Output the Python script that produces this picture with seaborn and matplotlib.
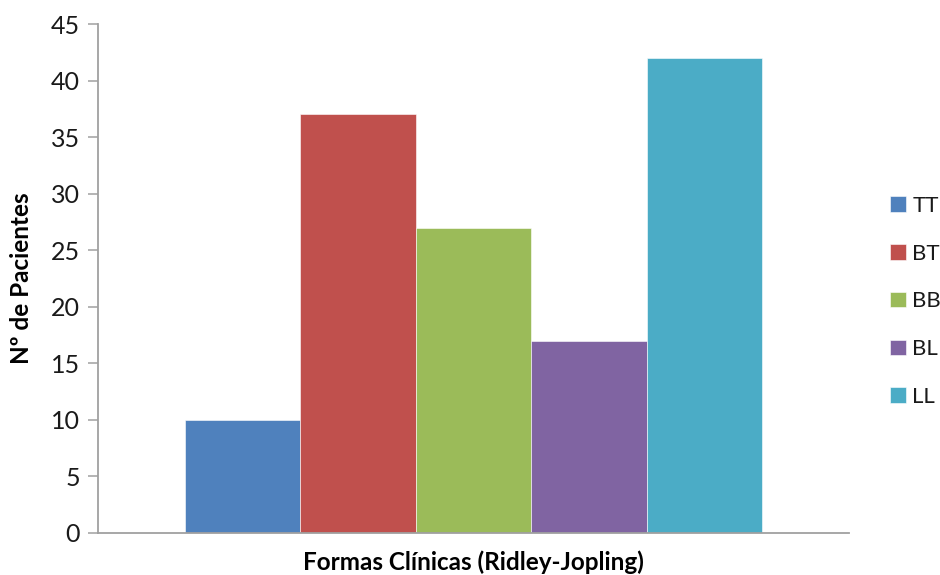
import matplotlib.pyplot as plt
import pandas as pd
import seaborn as sns

# Ridley-Jopling clinical forms, patient counts
formas = ['TT', 'BT', 'BB', 'BL', 'LL']
pacientes = [10, 37, 27, 17, 42]
colores = ['#4F81BD', '#C0504D', '#9BBB59', '#8064A2', '#4BACC6']

sns.set_style('white')
plt.rcParams['font.family'] = ['Lato', 'DejaVu Sans']

df = pd.DataFrame({'grupo': [''] * len(formas), 'forma': formas, 'n': pacientes})

fig = plt.figure(figsize=(9.4, 5.75), dpi=100)
ax = fig.add_axes([98 / 940, 1 - 533 / 575, 751 / 940, 509 / 575])

sns.barplot(data=df, x='grupo', y='n', hue='forma', hue_order=formas,
            palette=colores, width=0.768, gap=0, saturation=1,
            edgecolor='white', linewidth=0.4, ax=ax)

ax.set_ylim(0, 45)
ax.set_yticks(range(0, 46, 5))
ax.set_xlim(-0.5, 0.5)
ax.set_xticks([])

for s in ['top', 'right']:
    ax.spines[s].set_visible(False)
for s in ['left', 'bottom']:
    ax.spines[s].set_color('#A0A0A0')
    ax.spines[s].set_linewidth(1.3)

ax.tick_params(axis='y', direction='out', length=7, width=1.1, color='#A0A0A0',
               labelsize=18, labelcolor='#1a1a1a', pad=6, left=True)

ax.set_ylabel('Nº de Pacientes', fontsize=17.5, fontweight='bold', color='#000000')
ax.yaxis.set_label_coords(-0.087, 0.5)
ax.set_xlabel('Formas Clínicas (Ridley-Jopling)', fontsize=17.5, fontweight='bold',
              color='#000000')
ax.xaxis.set_label_coords(0.5, -0.035)

handles, labels = ax.get_legend_handles_labels()
ax.legend(handles, labels, loc='center left', bbox_to_anchor=(1.028, 0.455),
          frameon=False, fontsize=16, handlelength=0.7, handleheight=0.7,
          handletextpad=0.3, labelspacing=1.25, labelcolor='#1a1a1a')

fig.savefig('out.png', dpi=100)
